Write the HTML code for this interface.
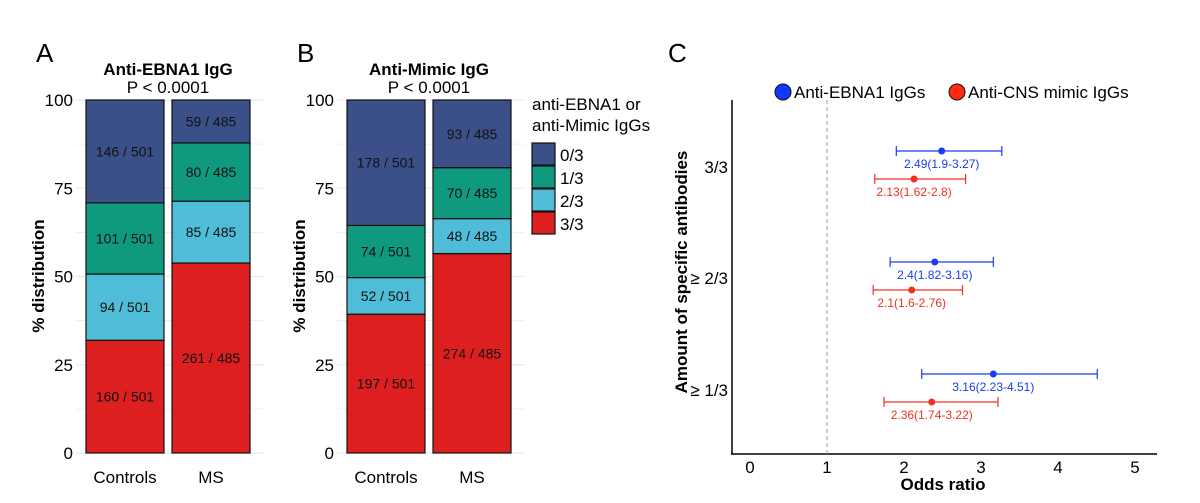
<!DOCTYPE html>
<html><head><meta charset="utf-8">
<style>
body{margin:0;background:#fff;}
svg{display:block;font-family:"Liberation Sans",Arial,sans-serif;}
</style></head>
<body>
<svg id="chart" width="1200" height="503" viewBox="0 0 1200 503" xmlns="http://www.w3.org/2000/svg">
<g id="pA"></g>
<g id="pB"></g>
<g id="pC"></g>
</svg>
<script>
// Stacked bar data (bottom to top: 3/3, 2/3, 1/3, 0/3)
const levels = ["3/3","2/3","1/3","0/3"];
const groups = ["Controls","MS"];
const ebnaControls = [160,94,101,146];
const ebnaMS = [261,85,80,59];
const mimicControls = [197,52,74,178];
const mimicMS = [274,48,70,93];
const yTicks = [0,25,50,75,100];
// Forest plot data
const rowLabels = ["3/3","\u2265 2/3","\u2265 1/3"];
const ebnaOR = [2.49,2.4,3.16];
const ebnaLo = [1.9,1.82,2.23];
const ebnaHi = [3.27,3.16,4.51];
const cnsOR = [2.13,2.1,2.36];
const cnsLo = [1.62,1.6,1.74];
const cnsHi = [2.8,2.76,3.22];
const xTicks = [0,1,2,3,4,5];

const NS="http://www.w3.org/2000/svg";
const colors={"3/3":"#dd1f1f","2/3":"#4fbdd8","1/3":"#0f9a7f","0/3":"#3b5088"};
function mk(parent,tag,attrs,text){const e=document.createElementNS(NS,tag);for(const k in attrs)e.setAttribute(k,attrs[k]);if(text!==undefined)e.textContent=text;parent.appendChild(e);return e;}

function stacked(g,x0,title,letter,data){
  const y=v=>453-v*3.53;
  const barX=[x0,x0+86], barW=78;
  const t=mk(g,'text',{x:x0-50,y:62,'font-size':26},letter);
  
  const ti=mk(g,'text',{x:x0+82,y:75,'font-size':17,'font-weight':'bold','text-anchor':'middle'},title);
  
  const p=mk(g,'text',{x:x0+82,y:93,'font-size':17,'text-anchor':'middle'},'P < 0.0001');
  
  for(let v=0;v<=100;v+=12.5){const l=mk(g,'line',{x1:x0-10,x2:x0+178,y1:y(v),y2:y(v),stroke:'#ececec','stroke-width':v%25?0.8:1.2});}
  yTicks.forEach(v=>{const tt=mk(g,'text',{x:x0-13,y:y(v)+6,'font-size':17,'text-anchor':'end'},String(v));});
  const yt=mk(g,'text',{transform:`translate(${x0-42},276) rotate(-90)`,'font-size':17,'font-weight':'bold','text-anchor':'middle'},'% distribution');
  
  data.forEach((arr,gi)=>{
    const tot=arr.reduce((a,b)=>a+b,0);let cum=0;
    arr.forEach((c,li)=>{
      const pct=c/tot*100;const yt0=y(cum+pct),yb=y(cum);
      const r=mk(g,'rect',{x:barX[gi],y:yt0,width:barW,height:yb-yt0,fill:colors[levels[li]],stroke:'#111','stroke-width':1.2});
      
      
      const lb=mk(g,'text',{x:barX[gi]+barW/2,y:(yt0+yb)/2+5,'font-size':14,'text-anchor':'middle',fill:'#111'},c+' / '+tot);
      
      cum+=pct;
    });
    const xl=mk(g,'text',{x:barX[gi]+barW/2,y:483,'font-size':17,'text-anchor':'middle'},groups[gi]);
    
  });
}
stacked(document.getElementById('pA'),86,'Anti-EBNA1 IgG','A',[ebnaControls,ebnaMS]);
stacked(document.getElementById('pB'),347,'Anti-Mimic IgG','B',[mimicControls,mimicMS]);

// legend B
const gB=document.getElementById('pB');
const lt1=mk(gB,'text',{x:532,y:110,'font-size':17},'anti-EBNA1 or');

const lt2=mk(gB,'text',{x:532,y:131,'font-size':17},'anti-Mimic IgGs');

["0/3","1/3","2/3","3/3"].forEach((k,i)=>{
  const r=mk(gB,'rect',{x:532,y:143+i*23,width:23,height:22,fill:colors[k],stroke:'#111','stroke-width':1.2});
  
  const t=mk(gB,'text',{x:560,y:161+i*23,'font-size':17},k);
  
});

// Panel C
const gC=document.getElementById('pC');
const xs=v=>750+v*77;
const rowY=[151,262,374];
const lc=mk(gC,'text',{x:668,y:62,'font-size':26},'C');

const ax1=mk(gC,'line',{x1:732,x2:732,y1:100,y2:454,stroke:'#000','stroke-width':1.5});

const ax2=mk(gC,'line',{x1:731,x2:1157,y1:454,y2:454,stroke:'#000','stroke-width':1.5});

const ref=mk(gC,'line',{x1:xs(1),x2:xs(1),y1:100,y2:454,stroke:'#999','stroke-width':1,'stroke-dasharray':'4,3'});

xTicks.forEach(v=>{const t=mk(gC,'text',{x:xs(v),y:473,'font-size':17,'text-anchor':'middle'},String(v));});
const xt=mk(gC,'text',{x:943,y:490,'font-size':17,'font-weight':'bold','text-anchor':'middle'},'Odds ratio');

const yt=mk(gC,'text',{transform:'translate(687,272) rotate(-90)','font-size':17,'font-weight':'bold','text-anchor':'middle'},'Amount of specific antibodies');

rowLabels.forEach((l,i)=>{const t=mk(gC,'text',{x:728,y:rowY[i]+22,'font-size':17,'text-anchor':'end'},l);});
function series(or,lo,hi,col,dy,name){
  or.forEach((v,i)=>{
    const y=rowY[i]+dy;
    const l=mk(gC,'line',{x1:xs(lo[i]),x2:xs(hi[i]),y1:y,y2:y,stroke:col,'stroke-width':1.2});
    
    [lo[i],hi[i]].forEach(e=>{const c=mk(gC,'line',{x1:xs(e),x2:xs(e),y1:y-5,y2:y+5,stroke:col,'stroke-width':1.2});});
    const p=mk(gC,'circle',{cx:xs(v),cy:y,r:3.5,fill:col});
    
    const t=mk(gC,'text',{x:xs(v),y:y+17,'font-size':12,'text-anchor':'middle',fill:col},v+'('+lo[i]+'-'+hi[i]+')');
    
  });
}
series(ebnaOR,ebnaLo,ebnaHi,'#1a3cf0',0,'ebna');
series(cnsOR,cnsLo,cnsHi,'#ee3322',28,'cns');
[[783,'#1038ff','Anti-EBNA1 IgGs'],[957,'#ff2a10','Anti-CNS mimic IgGs']].forEach(([x,c,s])=>{
  const ci=mk(gC,'circle',{cx:x,cy:92,r:8,fill:c,stroke:'#111','stroke-width':1});
  
  const t=mk(gC,'text',{x:x+11,y:98,'font-size':17},s);
  
});
</script>
</body></html>
